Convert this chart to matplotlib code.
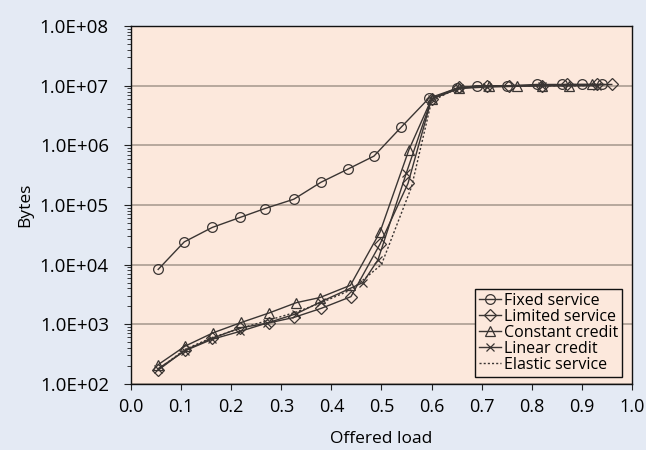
import numpy as np
import matplotlib
matplotlib.use('Agg')
import matplotlib.pyplot as plt
from matplotlib.ticker import LogLocator, FuncFormatter, NullFormatter

# data
fixed_x = [0.054, 0.106, 0.162, 0.218, 0.267, 0.325, 0.379, 0.433, 0.485, 0.539, 0.595, 0.65, 0.69, 0.75, 0.81, 0.86, 0.90, 0.94]
fixed_y = [8.3e3, 2.4e4, 4.2e4, 6.2e4, 8.7e4, 1.25e5, 2.4e5, 4.0e5, 6.6e5, 2.0e6, 6.2e6, 9.0e6, 1.0e7, 1.0e7, 1.05e7, 1.05e7, 1.05e7, 1.05e7]

limited_x = [0.054, 0.108, 0.162, 0.218, 0.275, 0.325, 0.38, 0.439, 0.497, 0.553, 0.60, 0.655, 0.71, 0.755, 0.82, 0.87, 0.93, 0.96]
limited_y = [170, 370, 580, 870, 1050, 1300, 1850, 2900, 2.2e4, 2.3e5, 6.0e6, 9.5e6, 9.8e6, 1.0e7, 1.0e7, 1.05e7, 1.05e7, 1.05e7]

const_x = [0.054, 0.108, 0.164, 0.22, 0.276, 0.33, 0.377, 0.438, 0.497, 0.555, 0.60, 0.655, 0.715, 0.77, 0.82, 0.875, 0.92]
const_y = [210, 430, 720, 1070, 1550, 2300, 2800, 4500, 3.5e4, 8.5e5, 6.0e6, 9.0e6, 1.0e7, 1.0e7, 1.0e7, 1.0e7, 1.05e7]

linear_x = [0.054, 0.108, 0.162, 0.218, 0.272, 0.33, 0.38, 0.463, 0.493, 0.55, 0.60, 0.655, 0.71, 0.82, 0.93]
linear_y = [180, 360, 560, 760, 1050, 1500, 2400, 5000, 1.2e4, 3.5e5, 6.0e6, 9.0e6, 9.5e6, 1.0e7, 1.0e7]

elastic_x = [0.054, 0.108, 0.162, 0.218, 0.272, 0.33, 0.38, 0.44, 0.50, 0.56, 0.60, 0.65, 0.70, 0.80, 0.90, 0.95]
elastic_y = [175, 380, 600, 850, 1150, 1600, 2300, 3800, 1.0e4, 2.0e5, 5.5e6, 9.0e6, 1.0e7, 1.0e7, 1.0e7, 1.05e7]

xticks = np.arange(0, 1.01, 0.1)

plt.rcParams['font.family'] = ['Open Sans', 'DejaVu Sans']

fig = plt.figure(figsize=(6.46, 4.5), dpi=100)
fig.patch.set_facecolor('#e4eaf4')
ax = fig.add_axes([0.203, 0.147, 0.775, 0.795])
ax.set_facecolor('#fce8dc')

lc = '#3a3533'
ms = 7
ax.plot(fixed_x, fixed_y, color=lc, lw=1, marker='o', ms=ms, mfc='none', mec=lc, mew=0.9, label='Fixed service')
ax.plot(limited_x, limited_y, color=lc, lw=1, marker='D', ms=ms - 1, mfc='none', mec=lc, mew=0.9, label='Limited service')
ax.plot(const_x, const_y, color=lc, lw=1, marker='^', ms=ms, mfc='none', mec=lc, mew=0.9, label='Constant credit')
ax.plot(linear_x, linear_y, color=lc, lw=1, marker='x', ms=ms - 1, mfc='none', mec=lc, mew=0.9, label='Linear credit')
ax.plot(elastic_x, elastic_y, color=lc, lw=1, ls=(0, (1.5, 1.5)), label='Elastic service')

ax.set_yscale('log')
ax.set_ylim(1e2, 1e8)
ax.set_xlim(0, 1.0)
ax.set_xticks(xticks)
ax.set_xticklabels(['%.1f' % v for v in xticks])
ax.yaxis.set_major_locator(LogLocator(base=10, numticks=10))
ax.yaxis.set_minor_locator(LogLocator(base=10, subs=np.arange(2, 10), numticks=100))
ax.yaxis.set_minor_formatter(NullFormatter())
ax.yaxis.set_major_formatter(FuncFormatter(lambda v, p: '1.0E+%02d' % int(round(np.log10(v)))))

ax.grid(True, axis='y', which='major', color='#ab9d92', lw=1.2)
ax.set_axisbelow(True)

ax.tick_params(axis='y', which='major', labelsize=13.5, direction='out', length=5, color='#222222', pad=11)
ax.tick_params(axis='x', which='major', labelsize=13, direction='out', length=4, color='#222222', pad=6)
ax.tick_params(axis='y', which='minor', direction='out', length=3, color='#222222', labelleft=False)
ax.tick_params(axis='x', which='minor', bottom=False, labelbottom=False)
for s in ax.spines.values():
    s.set_color('#111111')
    s.set_linewidth(1.0)

ax.set_xlabel('Offered load', fontsize=12.5, labelpad=11)
ax.set_ylabel('Bytes', fontsize=12.5, labelpad=5)

leg = ax.legend(loc='lower right', bbox_to_anchor=(0.98, 0.02), fontsize=11.5, frameon=True, fancybox=False,
                handlelength=1.4, handletextpad=0.15, borderpad=0.25, labelspacing=0.0, borderaxespad=0)
leg.get_frame().set_edgecolor('#111111')
leg.get_frame().set_facecolor('#fce8dc')
leg.get_frame().set_alpha(1)

fig.savefig('out.png', dpi=100, facecolor=fig.get_facecolor())
